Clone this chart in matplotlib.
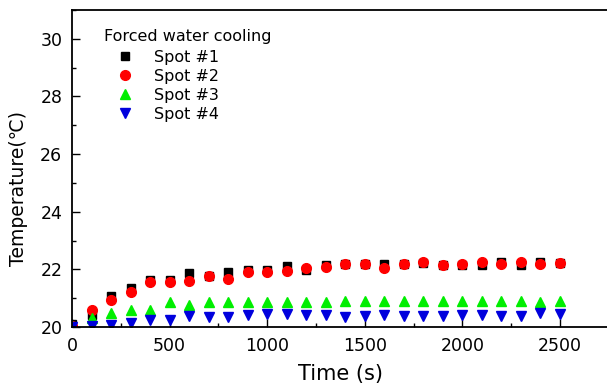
import matplotlib
matplotlib.use("Agg")
import matplotlib.pyplot as plt
from matplotlib.ticker import MultipleLocator

plt.rcParams['font.family'] = ['DejaVu Sans']

time_s = [0, 100, 200, 300, 400, 500, 600, 700, 800, 900, 1000, 1100, 1200, 1300,
          1400, 1500, 1600, 1700, 1800, 1900, 2000, 2100, 2200, 2300, 2400, 2500]
spot1 = [20.1, 20.4, 21.08, 21.34, 21.64, 21.64, 21.88, 21.78, 21.92, 21.98, 21.98, 22.1, 21.98, 22.16,
         22.18, 22.18, 22.18, 22.2, 22.22, 22.15, 22.15, 22.15, 22.24, 22.15, 22.24, 22.22]
spot2 = [20.05, 20.6, 20.92, 21.22, 21.55, 21.55, 21.58, 21.78, 21.68, 21.9, 21.9, 21.94, 22.06, 22.09,
         22.18, 22.18, 22.06, 22.2, 22.27, 22.15, 22.18, 22.24, 22.18, 22.24, 22.18, 22.22]
spot3 = [20.05, 20.32, 20.48, 20.6, 20.6, 20.86, 20.78, 20.86, 20.86, 20.86, 20.86, 20.88, 20.88, 20.86,
         20.9, 20.9, 20.9, 20.9, 20.9, 20.9, 20.9, 20.9, 20.9, 20.9, 20.88, 20.9]
spot4 = [20.0, 20.05, 20.08, 20.14, 20.26, 20.26, 20.38, 20.36, 20.36, 20.4, 20.44, 20.44, 20.4, 20.4,
         20.36, 20.38, 20.42, 20.38, 20.38, 20.38, 20.42, 20.42, 20.38, 20.38, 20.48, 20.45]

fig = plt.figure(figsize=(6.07, 3.87), dpi=100)
px_l, px_r, px_t, px_b = 72, 612, 10, 327
ax = fig.add_axes([px_l / 607, 1 - px_b / 387, (px_r - px_l) / 607, (px_b - px_t) / 387])

ax.plot(time_s, spot1, 's', color='black', ms=6.3, label='Spot #1', linestyle='none')
ax.plot(time_s, spot2, 'o', color='#ff0000', ms=7, label='Spot #2', linestyle='none')
ax.plot(time_s, spot3, '^', color='#00ee00', ms=7.5, label='Spot #3', linestyle='none')
ax.plot(time_s, spot4, 'v', color='#0000dd', ms=7.5, label='Spot #4', linestyle='none')

ax.set_xlim(0, (px_r - px_l) / (488 / 2500))
ax.set_ylim(20, 31)
ax.xaxis.set_major_locator(MultipleLocator(500))
ax.xaxis.set_minor_locator(MultipleLocator(250))
ax.yaxis.set_major_locator(MultipleLocator(2))
ax.yaxis.set_minor_locator(MultipleLocator(1))
ax.tick_params(which='both', direction='in', top=False, right=False, labelsize=12.5, pad=7)
ax.tick_params(which='major', length=6, width=1)
ax.tick_params(which='minor', length=3, width=1)
ax.spines['right'].set_visible(False)
for s in ['left', 'bottom', 'top']:
    ax.spines[s].set_linewidth(1.3)

ax.set_xlabel('Time (s)', fontsize=15)
ax.xaxis.set_label_coords((341 - px_l) / (px_r - px_l), -(364 - px_b) / (px_b - px_t))
ax.set_ylabel('Temperature(℃)', fontsize=13.5)
ax.yaxis.set_label_coords((28 - px_l) / (px_r - px_l), (px_b - 189) / (px_b - px_t))

leg = ax.legend(title='Forced water cooling', frameon=False, loc='upper left',
                bbox_to_anchor=((104 - px_l) / (px_r - px_l), (px_b - 29) / (px_b - px_t)),
                fontsize=11.5, title_fontsize=11.5, handlelength=2.6,
                handletextpad=0.55, labelspacing=0.25, borderaxespad=0, borderpad=0)
leg._legend_box.align = 'left'
leg._legend_box.sep = 4

fig.savefig('out.png', dpi=100)
